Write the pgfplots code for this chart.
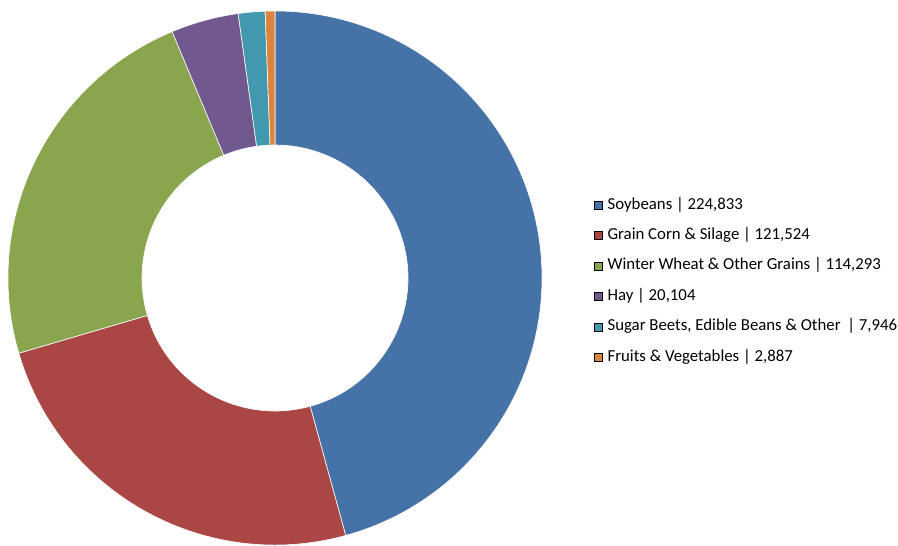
\documentclass[border=0pt]{standalone}
\usepackage{pgfplots}
\pgfplotsset{compat=1.18}
\usepackage{pgfplotstable}
\usepackage{fontspec}
\setmainfont{Carlito}

\definecolor{cSoy}{HTML}{4572A7}
\definecolor{cCorn}{HTML}{AA4643}
\definecolor{cWheat}{HTML}{89A54E}
\definecolor{cHay}{HTML}{71588F}
\definecolor{cBeet}{HTML}{4198AF}
\definecolor{cFruit}{HTML}{DB843D}

% acres by crop
\pgfplotstableread{
value col
224833 cSoy
121524 cCorn
114293 cWheat
20104 cHay
7946 cBeet
2887 cFruit
}\cropdata

% centre and radii in axis units (1 unit = 1bp)
\def\cx{275}
\def\cy{268}
\def\Ro{267}
\def\Ri{133}

\begin{document}
\begin{tikzpicture}
% total of all values
\def\total{0}
\foreach \i in {0,...,5}{
  \pgfplotstablegetelem{\i}{value}\of\cropdata
  \xdef\total{\fpeval{\total+\pgfplotsretval}}
}
\begin{axis}[
    x=1bp, y=1bp,
    xmin=0, xmax=898, ymin=0, ymax=546,
    hide axis,
    disabledatascaling,
    legend style={
        at={(axis cs:594,348)}, anchor=north west,
        draw=none, fill=none, inner sep=0pt,
        font=\fontsize{16.8bp}{18bp}\selectfont,
        nodes={inner sep=0pt, text height=11bp, text depth=3bp},
        column sep=5bp, row sep=16.4bp,
        cells={anchor=west}
    },
    legend image code/.code={\fill[#1] (0bp,-4bp) rectangle (8bp,4bp);}
]
\def\cum{0}
\pgfplotsforeachungrouped \i in {0,...,5}{
  \pgfplotstablegetelem{\i}{value}\of\cropdata
  \let\val\pgfplotsretval
  \pgfplotstablegetelem{\i}{col}\of\cropdata
  \let\col\pgfplotsretval
  \edef\aA{\fpeval{90-\cum*360/\total}}
  \edef\cum{\fpeval{\cum+\val}}
  \edef\aB{\fpeval{90-\cum*360/\total}}
  \edef\doslice{%
    \noexpand\fill[\col, draw=white, line width=0.6bp]
      (axis cs:{\fpeval{\cx+\Ro*cosd(\aA)}},{\fpeval{\cy+\Ro*sind(\aA)}})
      arc[start angle=\aA, end angle=\aB, radius=\Ro bp]
      -- (axis cs:{\fpeval{\cx+\Ri*cosd(\aB)}},{\fpeval{\cy+\Ri*sind(\aB)}})
      arc[start angle=\aB, end angle=\aA, radius=\Ri bp] -- cycle;}
  \doslice
}
\addlegendimage{fill=cSoy}
\addlegendentry{Soybeans | 224,833}
\addlegendimage{fill=cCorn}
\addlegendentry{Grain Corn \& Silage | 121,524}
\addlegendimage{fill=cWheat}
\addlegendentry{Winter Wheat \& Other Grains | 114,293}
\addlegendimage{fill=cHay}
\addlegendentry{Hay | 20,104}
\addlegendimage{fill=cBeet}
\addlegendentry{Sugar Beets, Edible Beans \& Other \,| 7,946}
\addlegendimage{fill=cFruit}
\addlegendentry{Fruits \& Vegetables | 2,887}
\end{axis}
\path (current axis.south west) rectangle (current axis.north east);
\end{tikzpicture}
\end{document}
